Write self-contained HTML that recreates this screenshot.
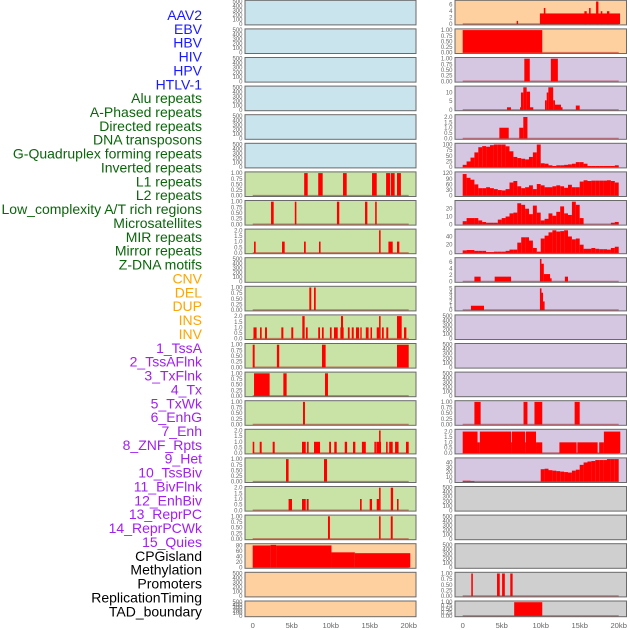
<!DOCTYPE html>
<html><head><meta charset="utf-8">
<style>
html,body{margin:0;padding:0;background:#fff;}
svg{display:block;font-family:"Liberation Sans",sans-serif;}
</style></head>
<body>
<svg id="chart" width="630" height="630" viewBox="0 0 630 630" xmlns="http://www.w3.org/2000/svg">
<g id="labels"></g>
<g id="panels"></g>
<g id="xaxis"></g>
</svg>
<script>
// ---- categories / labels ----
const trackLabels = ["AAV2","EBV","HBV","HIV","HPV","HTLV-1","Alu repeats","A-Phased repeats","Directed repeats","DNA transposons","G-Quadruplex forming repeats","Inverted repeats","L1 repeats","L2 repeats","Low_complexity A/T rich regions","Microsatellites","MIR repeats","Mirror repeats","Z-DNA motifs","CNV","DEL","DUP","INS","INV","1_TssA","2_TssAFlnk","3_TxFlnk","4_Tx","5_TxWk","6_EnhG","7_Enh","8_ZNF_Rpts","9_Het","10_TssBiv","11_BivFlnk","12_EnhBiv","13_ReprPC","14_ReprPCWk","15_Quies","CPGisland","Methylation","Promoters","ReplicationTiming","TAD_boundary"];
const labelGroups = ["v","v","v","v","v","v","r","r","r","r","r","r","r","r","r","r","r","r","r","s","s","s","s","s","c","c","c","c","c","c","c","c","c","c","c","c","c","c","c","k","k","k","k","k"];
const xTickValues = [0,5,10,15,20];
const xTickLabels = ["0","5kb","10kb","15kb","20kb"];

// ---- left column panels ----
const leftBg = ["B","B","B","B","B","B","G","G","G","G","G","G","G","G","G","G","G","G","G","O","O","O"];
const leftMax = [500,500,500,500,500,500,1,1,2,500,1,2,1,1,1,2,1,2,1,82,500,500];
const leftTicks = ["E","E","E","E","E","E","T1","T1","T2","E","T1","T2","T1","T1","T1","T2","T1","T2","T1","C80","E","E"];
const leftSegs = [
 [],[],[],[],[],[],
 [[6.6,7.05,1],[8.4,8.97,1],[11.58,12.05,1],[15.3,15.9,1],[17.1,17.6,1],[17.7,18.2,1],[18.5,19.0,1]],
 [[2.35,2.69,1],[5.4,5.6,1],[10.8,11.1,1],[14.4,14.7,1],[15.7,15.9,1]],
 [[0.17,0.38,1],[3.76,4.1,1],[6.58,6.8,1],[8.5,8.7,1],[16.2,16.4,2],[17.4,17.95,1],[18.5,18.8,1]],
 [],
 [[7.26,7.51,1],[7.86,8.08,1]],
 [[0.1,0.5,1],[0.94,1.15,1],[1.58,1.83,1],[3.67,3.93,1],[4.95,5.2,1],[6.36,6.66,2],[6.83,7.05,1],[8.4,8.63,1],[8.88,9.1,1],[9.9,10.12,1],[10.42,10.9,1],[11.24,11.66,1],[11.32,11.58,2],[12.2,12.43,1],[12.7,12.95,1],[13.24,13.63,1],[13.8,13.97,1],[14.5,14.86,1],[15.1,15.3,1],[15.9,16.2,1],[16.2,16.4,2],[16.58,16.8,1],[17.13,17.38,1],[18.5,19.1,2],[19.4,19.7,1]],
 [[0.0,0.25,1],[3.1,3.4,1],[8.88,9.35,1],[18.5,20.0,1]],
 [[0.17,2.17,1],[3.93,4.35,1],[9.27,9.65,1]],
 [[6.45,6.7,1]],
 [[0.0,0.2,1],[0.9,1.15,1],[2.56,2.82,1],[6.32,6.8,1],[6.97,7.17,1],[7.86,8.63,1],[9.8,10.04,1],[10.46,10.77,1],[11.8,12.1,1],[12.86,13.16,1],[14.0,14.5,1],[15.6,15.8,1],[15.85,16.45,1],[16.2,16.4,2],[17.1,17.3,1],[17.5,17.95,1],[18.25,18.7,1],[19.65,20.0,1]],
 [[4.27,4.6,1],[9.14,9.53,1]],
 [[4.6,5.04,1],[6.32,6.8,1],[6.93,7.17,1],[13.76,13.97,1],[15.0,15.3,1],[15.9,16.2,1],[16.2,16.4,2],[17.7,18.0,2],[18.5,18.7,1]],
 [[9.65,9.9,1],[16.2,16.4,1],[17.7,17.95,1]],
 [[0.0,2.3,80],[2.3,3.0,82],[3.0,10.1,80],[10.1,13.1,55],[13.1,20.2,52]],
 [],[]
];

// ---- right column panels ----
const rightBg = ["O","O","P","P","P","P","P","P","P","P","P","P","P","P","P","P","P","X","X","X","X","X"];
const rightMax = [7,1,1,13,2.1,100,120,29,55,7,5.2,500,500,500,1,2.1,47,500,500,500,1,1];
const rightTicks = ["C6","T1","T1","C10","T2","C100","C120","C20","C40","C6","C5","E","E","E","T1","T2","C40b","E","E","E","T1","T1"];
const rightSegs = [
 [[6.92,7.1,1],[9.9,20.17,3.3],[10.4,10.6,5],[15.6,15.9,4],[16.2,16.4,5],[17.1,17.4,7],[17.7,17.9,4],[18.5,18.8,4]],
 [[0.0,10.2,1]],
 [[7.9,8.6,1],[11.3,12.2,1]],
 [[5.68,6.19,1.5],[7.35,7.47,1.5],[7.47,7.77,10],[7.77,8.2,13],[8.2,8.63,10.5],[8.63,9.05,1.5],[10.55,10.77,5.5],[10.77,10.98,10],[10.98,11.6,13],[11.6,11.83,5.5],[11.83,12.6,3],[12.6,12.8,1.5],[14.5,15.0,2.5]],
 [[4.7,5.9,1],[7.25,7.77,1],[7.77,8.3,2]],
 [],[],[],[],
 [[1.5,2.3,1.5],[4.1,6.2,1.5],[9.9,10.1,7],[10.1,10.4,5.5],[10.4,11.2,2.3],[11.2,11.4,1],[13.1,13.5,1.5]],
 [[1.06,2.73,1],[9.9,10.1,5],[10.1,10.3,4],[10.3,10.5,2]],
 [],[],[],
 [[1.5,2.3,1],[7.8,8.3,1],[9.2,10.2,1],[14.35,15.0,1]],
 [[0.0,1.9,2],[1.9,2.2,1],[2.2,6.2,2],[6.2,6.3,1],[6.3,8.0,2],[8.0,8.1,1],[8.1,9.4,2],[9.4,10.2,1],[12.4,14.6,1],[14.7,17.3,1],[17.5,18.1,1],[18.1,20.2,2]],
 [],
 [],[],[],
 [[1.1,1.3,1],[4.4,4.75,1],[5.05,5.4,1],[6.1,6.4,1]],
 [[6.6,10.2,1]]
];
const binWidthKb = 0.5;
const gQuadValues = [10,25,42,65,88,93,90,97,100,100,100,92,70,45,40,37,34,45,65,100,17,15,8,5,8,8,10,12,15,22,22,15,5,5,5,5,5,5,5,8];
const invertedValues = [115,95,85,60,40,40,45,40,35,30,28,35,70,78,50,40,45,55,35,62,55,45,45,50,55,50,42,58,45,45,75,82,78,80,80,80,80,82,78,70];
const l1Values = [4,8,8,8,5,3,2,2,2,6,8,10,14,15,27,25,20,13,24,15,5,7,14,11,16,23,14,12,29,25,8,0,0,0,0,0,0,0,2,3];
const l2Values = [6,7,7,5,5,5,2,2,3,3,3,5,8,8,25,38,38,30,12,3,35,42,50,55,52,53,55,40,33,35,20,10,10,12,10,9,9,8,12,15];
const het9Values = [2,2,1.5,0,0,0,0,0,0,0,0,0,0,0,0,0,0,0,0,0,26,27,24,23,22,21,20,19,23,25,35,40,42,43,45,45,45,47,47,47];
const rightBinned = {5:gQuadValues,6:invertedValues,7:l1Values,8:l2Values,16:het9Values};

const tickSets = {
 E:[[0,"0"],[100,"100"],[200,"200"],[300,"300"],[400,"400"],[500,"500"]],
 T1:[[0,"0.00"],[0.25,"0.25"],[0.5,"0.50"],[0.75,"0.75"],[1,"1.00"]],
 T2:[[0,"0.0"],[0.5,"0.5"],[1,"1.0"],[1.5,"1.5"],[2,"2.0"]],
 C80:[[0,"0"],[20,"20"],[40,"40"],[60,"60"],[80,"80"]],
 C6:[[0,"0"],[2,"2"],[4,"4"],[6,"6"]],
 C10:[[0,"0"],[5,"5"],[10,"10"]],
 C100:[[0,"0"],[25,"25"],[50,"50"],[75,"75"],[100,"100"]],
 C120:[[0,"0"],[30,"30"],[60,"60"],[90,"90"],[120,"120"]],
 C20:[[0,"0"],[10,"10"],[20,"20"]],
 C40:[[0,"0"],[20,"20"],[40,"40"]],
 C5:[[0,"0"],[1,"1"],[2,"2"],[3,"3"],[4,"4"],[5,"5"]],
 C40b:[[0,"0"],[10,"10"],[20,"20"],[30,"30"],[40,"40"]]
};

const NS = "http://www.w3.org/2000/svg";
const bgColors = {B:"#c9e4ec",G:"#c9e2a6",O:"#fed0a0",P:"#d5c6e2",X:"#cfcfcf"};
const labelColors = {v:"#1a1aff",r:"#0b660b",s:"#ffa500",c:"#a020f0",k:"#000000"};
const colLeft = {frameX:245, frameW:171, zeroX:252.7};
const colRight = {frameX:455, frameW:171.5, zeroX:462.7};
const pxPerKb = 7.8;
function rowTop(r){ return r===21 ? 601 : 0.3 + r*28.6; }
function rowH(r){ return r===21 ? 15.7 : 24.6; }
function xScale(col, kb){ return col.zeroX + kb*pxPerKb; }
function yScale(r, max, v){ const b = rowTop(r)+rowH(r)-0.8, t = rowTop(r)+1.2; return b - (v/max)*(b-t); }
function mk(tag, attrs){ const e=document.createElementNS(NS,tag); for(const k in attrs) e.setAttribute(k,attrs[k]); return e; }

const lg = document.getElementById("labels");
trackLabels.forEach((t,i)=>{
  const el = mk("text",{x:202, y:(15+i*13.87+4.9).toFixed(2), "text-anchor":"end", "font-size":"14", fill:labelColors[labelGroups[i]]});
  
  
  el.textContent = t;
  lg.appendChild(el);
});

function binsToSegs(vals){
  const s=[]; vals.forEach((v,i)=>{ if(v>0) s.push([i*binWidthKb,(i+1)*binWidthKb,v]); }); return s;
}

const pg = document.getElementById("panels");
function drawColumn(col, bgs, maxes, ticks, segs, binned, side){
  bgs.forEach((bg,r)=>{
    const g = mk("g",{});
    
    
    const top=rowTop(r), h=rowH(r);
    const rect = mk("rect",{x:col.frameX, y:top, width:col.frameW, height:h, fill:bgColors[bg]});
    
    
    g.appendChild(rect);
    let s = segs[r];
    if(binned && binned[r]) s = binsToSegs(binned[r]);
    if(s.length>0){
      const base = mk("line",{x1:xScale(col,0), x2:xScale(col,20), y1:yScale(r,maxes[r],0), y2:yScale(r,maxes[r],0), stroke:"rgba(170,0,0,0.45)", "stroke-width":"1.6"});
      
      
      g.appendChild(base);
    }
    s.forEach(sg=>{
      const x1=xScale(col,sg[0]), x2=xScale(col,sg[1]);
      const y1=yScale(r,maxes[r],sg[2]), y0=yScale(r,maxes[r],0);
      const bar = mk("rect",{x:x1.toFixed(2), y:Math.max(top,y1).toFixed(2), width:Math.max(1.2,x2-x1).toFixed(2), height:(y0-Math.max(top,y1)).toFixed(2), fill:"#ff0000"});
      
      
      g.appendChild(bar);
    });
    const frame = mk("rect",{x:col.frameX, y:top, width:col.frameW, height:h, fill:"none", stroke:"#6a6a6a", "stroke-width":"1"});
    
    
    g.appendChild(frame);
    tickSets[ticks[r]].forEach(tk=>{
      const ty = yScale(r,maxes[r],tk[0]);
      const tl = mk("text",{x:col.frameX-2.5, y:(ty+2).toFixed(2), "text-anchor":"end", "font-size":"6", fill:"#666"});
      
      
      tl.textContent = tk[1];
      g.appendChild(tl);
    });
    pg.appendChild(g);
  });
}
drawColumn(colLeft, leftBg, leftMax, leftTicks, leftSegs, null, "left");
drawColumn(colRight, rightBg, rightMax, rightTicks, rightSegs, rightBinned, "right");

const xg = document.getElementById("xaxis");
[colLeft,colRight].forEach(col=>{
  xTickValues.forEach((v,i)=>{
    const t = mk("text",{x:xScale(col,v).toFixed(2), y:628, "text-anchor":"middle", "font-size":"7.6", fill:"#666"});
    
    
    t.textContent = xTickLabels[i];
    xg.appendChild(t);
  });
});
</script>
</body></html>
